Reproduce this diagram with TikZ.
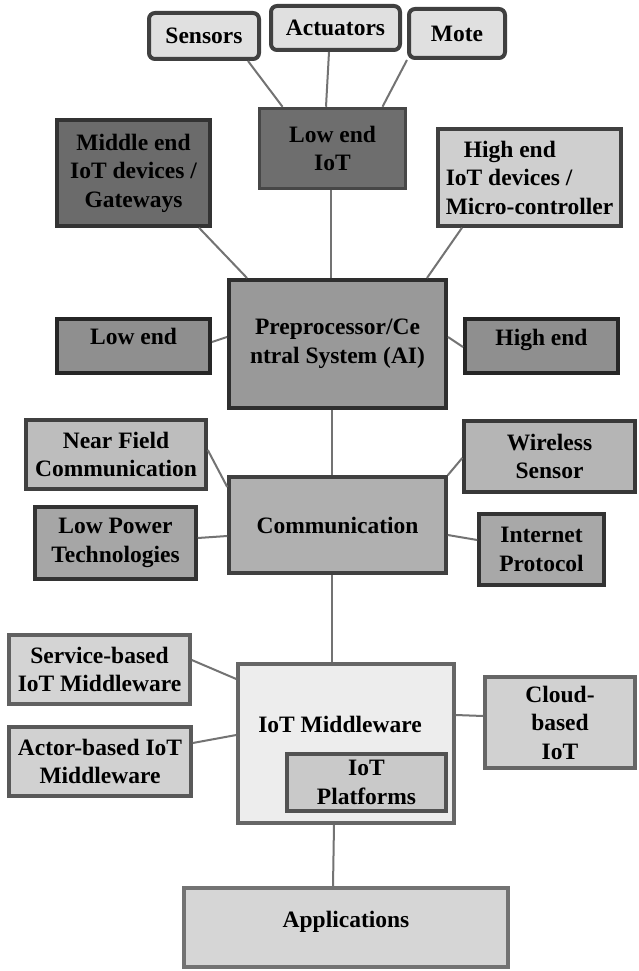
\documentclass[tikz,border=0pt]{standalone}
\usepackage{fontspec}
\setmainfont{Liberation Serif}
\begin{document}
\begin{tikzpicture}[x=1pt,y=-1pt,
  box/.style={draw=#1, line width=3.5pt, inner sep=0pt, align=center,
    font=\fontsize{23.5}{28.5}\selectfont\bfseries},
  rbox/.style={box=#1, rounded corners=6pt, line width=4pt},
  lbl/.style={inner sep=0pt, font=\fontsize{23.5}{28.5}\selectfont\bfseries},
  conn/.style={draw=gray!90!black, line width=2pt}]
\useasboundingbox[fill=white] (0,0) rectangle (639,971);
% top devices
\node[rbox={black!75}, fill={black!12}, minimum width=110, minimum height=46] (sensors) at (204,36) {Sensors};
\node[rbox={black!75}, fill={black!12}, minimum width=129, minimum height=44] (actuators) at (335.5,28) {Actuators};
\node[rbox={black!75}, fill={black!12}, minimum width=96, minimum height=49] (mote) at (457,33.5) {Mote};
% IoT levels
\node[box={black!72}, fill={black!57}, minimum width=146, minimum height=80] (lowiot) at (332.5,148.5) {Low end\\IoT};
\node[box={black!80}, fill={black!58}, minimum width=153, minimum height=106] (middle) at (133.5,173) {Middle end\\IoT devices /\\Gateways};
\node[box={black!75}, fill={black!19}, minimum width=183, minimum height=97, align=left] (highiot) at (529.5,177.5) {\hspace{18pt}High end\\IoT devices /\\Micro-controller};
% preprocessor
\node[box={black!82}, fill={black!40}, minimum width=217, minimum height=128, line width=4pt] (preproc) at (337.5,344) {Preprocessor/Ce\\ntral System (AI)};
\node[box={black!85}, fill={black!44}, minimum width=153, minimum height=54, line width=4pt] (lowend) at (133.5,346) {};
\node[lbl] (lowendT) at (133.5,344) [anchor=base] {Low end};
\node[box={black!85}, fill={black!44}, minimum width=153, minimum height=54, line width=4pt] (highend) at (541.5,346) {};
\node[lbl] (highendT) at (541.5,345) [anchor=base] {High end};
% communication
\node[box={black!75}, fill={black!31}, minimum width=217, minimum height=96] (comm) at (337.5,525) {Communication};
\node[box={black!75}, fill={black!26}, minimum width=180, minimum height=69] (nfc) at (116,454.5) {Near Field\\Communication};
\node[box={black!80}, fill={black!35}, minimum width=161, minimum height=72] (lowpower) at (115.5,543) {Low Power\\Technologies};
\node[box={black!78}, fill={black!29}, minimum width=171, minimum height=71] (wireless) at (549.5,456.5) {Wireless\\Sensor};
\node[box={black!80}, fill={black!34}, minimum width=125, minimum height=71] (internet) at (541.5,549.5) {Internet\\Protocol};
% middleware
\node[box={black!60}, fill={black!7}, minimum width=216, minimum height=159] (middleware) at (346,743.5) {};
\node[lbl] (middlewareT) at (340,732) [anchor=base] {IoT Middleware};
\node[box={black!68}, fill={black!21}, minimum width=159, minimum height=57] (platforms) at (366.5,782.5) {IoT\\Platforms};
\node[box={black!62}, fill={black!17}, minimum width=181, minimum height=69] (service) at (99.5,669.5) {Service-based\\IoT Middleware};
\node[box={black!65}, fill={black!18}, minimum width=182, minimum height=69] (actor) at (100,761.5) {Actor-based IoT\\Middleware};
\node[box={black!60}, fill={black!18}, minimum width=150, minimum height=91] (cloud) at (560,722.5) {Cloud-\\based\\IoT};
% applications
\node[box={black!55}, fill={black!16}, minimum width=324, minimum height=79] (apps) at (346,927.5) {};
\node[lbl] (appsT) at (346,927) [anchor=base] {Applications};
% connectors
\draw[conn] ([xshift=44pt]sensors.south) -- ([xshift=-50pt]lowiot.north);
\draw[conn] ([xshift=-6.5pt]actuators.south) -- ([xshift=-6.5pt]lowiot.north);
\draw[conn] (mote.south west) -- ([xshift=50pt]lowiot.north);
\draw[conn] ([xshift=-1.5pt]lowiot.south) -- ([xshift=-6.5pt]preproc.north);
\draw[conn] ([xshift=65.5pt]middle.south) -- ([xshift=-90.5pt]preproc.north);
\draw[conn] ([xshift=-67.5pt]highiot.south) -- ([xshift=89.5pt]preproc.north);
\draw[conn] ([yshift=4pt]lowend.east) -- ([yshift=7pt]preproc.west);
\draw[conn] ([yshift=7pt]preproc.east) -- ([yshift=-1pt]highend.west);
\draw[conn] ([xshift=-5.5pt]preproc.south) -- ([xshift=-5.5pt]comm.north);
\draw[conn] ([yshift=4.5pt]nfc.east) -- ([yshift=38pt]comm.west);
\draw[conn] ([yshift=5pt]lowpower.east) -- ([yshift=-11pt]comm.west);
\draw[conn] (comm.north east) -- ([yshift=-1.5pt]wireless.west);
\draw[conn] ([yshift=-10pt]comm.east) -- ([yshift=9.5pt]internet.west);
\draw[conn] ([xshift=-5.5pt]comm.south) -- ([xshift=-14pt]middleware.north);
\draw[conn] ([yshift=9.5pt]service.east) -- ([yshift=64.5pt]middleware.west);
\draw[conn] ([yshift=18.5pt]actor.east) -- ([yshift=8.5pt]middleware.west);
\draw[conn] ([yshift=28.5pt]middleware.east) -- ([yshift=6.5pt]cloud.west);
\draw[conn] ([xshift=-12pt]middleware.south) -- ([xshift=-13pt]apps.north);
\end{tikzpicture}
\end{document}
